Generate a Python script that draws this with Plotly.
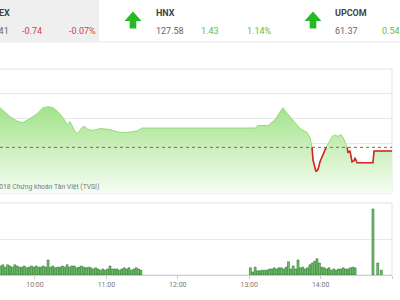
import plotly.graph_objects as go
import numpy as np

# ---------------- data ----------------
# time in minutes after 09:00
price_time = [30.6, 39.0, 45.7, 49.9, 55.8, 61.7, 66.7, 71.0, 75.1, 79.3, 83.5, 86.9, 89.4, 93.6,
              96.1, 99.5, 102.0, 104.5, 108.8, 114.6, 123.0, 131.4, 137.3, 145.7, 150.0, 245.0,
              247.4, 255.8, 261.7, 265.9, 268.4, 270.1, 274.3, 278.5, 282.7, 288.6, 291.1, 292.8,
              293.6, 296.1, 297.8, 299.5, 302.9, 305.4, 309.6, 312.1, 314.6, 317.2, 319.7, 322.2,
              323.1, 324.7, 326.4, 328.1, 328.9, 330.6, 344.0, 344.9, 360.0]
price_value = [1062.2, 1060.4, 1059.4, 1059.2, 1060.0, 1061.0, 1062.2, 1062.4, 1062.2, 1061.4,
               1060.2, 1058.8, 1059.4, 1057.4, 1057.0, 1058.2, 1058.4, 1057.8, 1057.6, 1058.0,
               1057.8, 1057.2, 1057.2, 1057.5, 1058.1, 1058.1, 1058.6, 1058.6, 1059.8, 1061.4,
               1062.2, 1061.6, 1060.4, 1059.0, 1058.0, 1057.2, 1056.2, 1054.2, 1051.7, 1049.3,
               1049.7, 1051.3, 1053.5, 1054.5, 1056.4, 1056.7, 1056.4, 1056.8, 1055.8, 1054.3,
               1053.1, 1053.5, 1051.3, 1051.5, 1052.1, 1051.1, 1051.1, 1053.46, 1053.46]
reference_price = 1054.2

vol_morning_time = list(range(31, 150, 2))
vol_morning = [1.5, 1.7, 1.3, 1.7, 1.5, 1.3, 1.7, 1.5, 1.3, 1.3, 1.5, 1.2, 1.3, 1.5, 1.3, 1.5, 1.3,
               1.3, 1.5, 1.3, 2.5, 1.3, 1.5, 1.2, 1.3, 1.3, 1.5, 1.3, 1.7, 1.3, 1.5, 1.5, 1.2, 1.3,
               1.5, 1.3, 1.2, 1.3, 1.2, 1.0, 1.2, 1.0, 0.8, 1.0, 0.8, 1.0, 1.5, 1.0, 1.0, 1.0, 0.8,
               1.0, 1.2, 1.0, 1.2, 0.8, 1.0, 1.2, 1.0, 0.8]
vol_afternoon_time = list(range(241, 330, 2))
vol_afternoon = [1.2, 0.5, 1.3, 0.7, 0.7, 0.8, 0.8, 0.8, 1.0, 1.0, 1.2, 1.0, 1.2, 1.2, 1.0, 1.3,
                 2.2, 1.0, 1.5, 1.0, 2.5, 1.2, 1.3, 1.0, 1.2, 1.7, 2.0, 2.3, 2.7, 2.0, 1.3, 1.2,
                 1.0, 1.2, 0.8, 1.0, 0.8, 1.0, 1.0, 1.2, 1.0, 1.0, 1.2, 1.3, 1.2]
vol_atc_time = [344, 348, 351]
vol_atc = [11.0, 2.0, 0.8]

tick_vals = [60, 120, 180, 240, 300, 360]
tick_text = ["10:00", "11:00", "12:00", "13:00", "14:00", "15:00"]

header_names = ["VNINDEX", "HNX", "UPCOM"]
header_values = ["1056.41", "127.58", "61.37"]
header_changes = ["-0.74", "1.43", "0.54"]
header_pcts = ["-0.07%", "1.14%", ""]
copyright_text = "©2018 Chứng khoán Tân Việt (TVSI)"

# ---------------- helpers ----------------
PW, PH = 392.0, 275.0
def px(x):
    return x / PW
def py(y):
    return (PH - y) / PH

t = np.array(price_time)
v = np.array(price_value)
ref = reference_price
seq_t, seq_v = [], []
for i in range(len(t)):
    if i > 0:
        a, b = v[i - 1] - ref, v[i] - ref
        if a * b < 0:
            seq_t.append(float(t[i - 1] + (t[i] - t[i - 1]) * a / (a - b)))
            seq_v.append(ref)
    seq_t.append(float(t[i]))
    seq_v.append(float(v[i]))
red_v = [y if y <= ref + 1e-9 else None for y in seq_v]

fig = go.Figure()
fig.add_trace(go.Scatter(
    x=seq_t, y=seq_v, mode="lines", fill="tozeroy",
    line=dict(color="rgb(150,220,125)", width=1),
    fillgradient=dict(type="vertical",
                      colorscale=[[0, "rgb(245,253,242)"], [1, "rgb(160,226,135)"]],
                      start=1045, stop=1063),
    xaxis="x", yaxis="y", hoverinfo="skip"))
fig.add_trace(go.Scatter(
    x=seq_t, y=red_v, mode="lines", connectgaps=False,
    line=dict(color="rgb(215,35,35)", width=1.6),
    xaxis="x", yaxis="y", hoverinfo="skip"))

vol_time = vol_morning_time + vol_afternoon_time + vol_atc_time
vol_value = vol_morning + vol_afternoon + vol_atc
fig.add_trace(go.Bar(
    x=vol_time, y=vol_value, width=1.6,
    marker=dict(color="rgb(120,195,115)", line=dict(color="rgb(35,115,35)", width=0.6)),
    xaxis="x2", yaxis="y2", hoverinfo="skip"))

price_dom = [py(193), py(69)]
vol_dom = [py(275), py(203)]

shapes = []
# header
shapes.append(dict(type="rect", xref="paper", yref="paper", x0=px(-5), x1=px(99), y0=py(41.5), y1=py(-2),
                   fillcolor="#efefef", line=dict(width=0), layer="below"))
shapes.append(dict(type="line", xref="paper", yref="paper", x0=px(-5), x1=px(405), y0=py(42), y1=py(42),
                   line=dict(color="#e6e6e6", width=1)))
for cx in [133, 313]:
    pts = [(cx, 11.5), (cx + 8.5, 21), (cx + 3.3, 21), (cx + 3.3, 28.5), (cx - 3.3, 28.5), (cx - 3.3, 21), (cx - 8.5, 21)]
    path = "M " + " L ".join(f"{px(a):.5f},{py(b):.5f}" for a, b in pts) + " Z"
    shapes.append(dict(type="path", xref="paper", yref="paper", path=path,
                       fillcolor="rgb(38,185,38)", line=dict(width=0)))
# panel borders
for y0, y1 in [(193, 69), (275, 203)]:
    shapes.append(dict(type="rect", xref="paper", yref="paper", x0=px(-5), x1=1, y0=py(y0), y1=py(y1),
                       line=dict(color="#e2e2e2", width=1), layer="below"))
# reference line
shapes.append(dict(type="line", xref="paper", yref="y", x0=0, x1=1, y0=ref, y1=ref,
                   line=dict(color="rgb(175,85,60)", width=1, dash="dot")))

ann = []
font_base = "Roboto, Arial, sans-serif"
title_x = [11, 154, 333]
for i in range(3):
    if i == 0:
        ann.append(dict(x=px(11.5), y=py(13.5), text=f"<b>{header_names[i]}</b>", xanchor="right",
                        font=dict(size=9, color="#444")))
        ann.append(dict(x=px(10.5), y=py(31.5), text=header_values[i], xanchor="right",
                        font=dict(size=9, color="#666")))
    else:
        ann.append(dict(x=px(title_x[i]), y=py(13.5), text=f"<b>{header_names[i]}</b>", xanchor="left",
                        font=dict(size=9, color="#444")))
        ann.append(dict(x=px(title_x[i]), y=py(31.5), text=header_values[i], xanchor="left",
                        font=dict(size=9, color="#666")))
chg_x = [20, 199, 380]
pct_x = [67, 245, None]
for i in range(3):
    col = "rgb(220,60,70)" if header_changes[i].startswith("-") else "rgb(100,190,70)"
    ann.append(dict(x=px(chg_x[i]), y=py(31.5), text=header_changes[i], xanchor="left",
                    font=dict(size=9, color=col)))
    if header_pcts[i]:
        ann.append(dict(x=px(pct_x[i]), y=py(31.5), text=header_pcts[i], xanchor="left",
                        font=dict(size=9, color=col)))
ann.append(dict(x=px(101), y=py(187), text=copyright_text, xanchor="right",
                font=dict(size=6.8, color="#7a7a7a")))
for a in ann:
    a.update(xref="paper", yref="paper", showarrow=False, yanchor="middle")
    a["font"]["family"] = font_base

fig.update_layout(
    width=400, height=300,
    margin=dict(l=0, r=8, t=0, b=25),
    paper_bgcolor="white", plot_bgcolor="rgba(0,0,0,0)",
    showlegend=False, barmode="overlay",
    font=dict(family=font_base),
    xaxis=dict(domain=[0, 1], range=[30.6, 360], anchor="y", showgrid=False, zeroline=False,
               showticklabels=False, ticks=""),
    yaxis=dict(domain=price_dom, range=[1045, 1070], dtick=5, showgrid=True, gridcolor="#e8e8e8",
               zeroline=False, showticklabels=False),
    xaxis2=dict(domain=[0, 1], range=[30.6, 360], anchor="y2", matches="x", showgrid=False,
                zeroline=False, tickvals=tick_vals, ticktext=tick_text, ticks="outside", ticklen=3,
                tickcolor="#cccccc", showline=True, linecolor="#cccccc",
                tickfont=dict(size=7, color="#777")),
    yaxis2=dict(domain=vol_dom, range=[0, 12], dtick=6, showgrid=True, gridcolor="#e8e8e8",
                zeroline=False, showticklabels=False),
    shapes=shapes, annotations=ann,
)
fig.write_html("out.html")
